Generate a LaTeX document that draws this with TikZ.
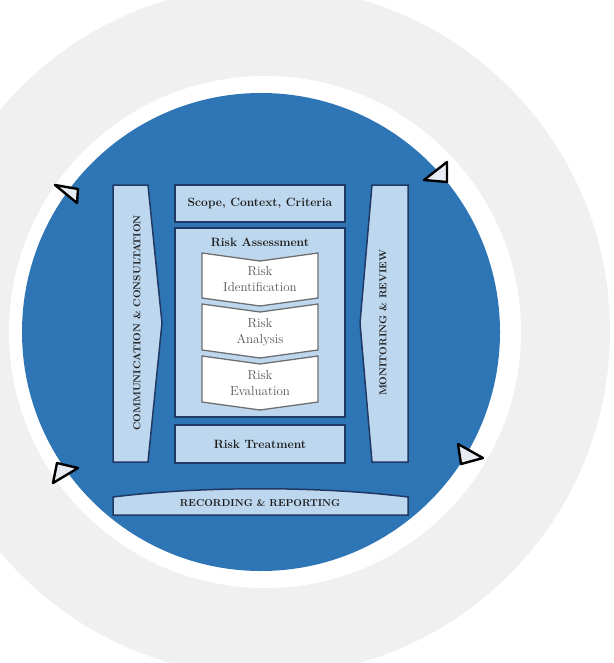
\documentclass[tikz,border=0pt]{standalone}
\usepackage{fontspec}
\definecolor{bggray}{HTML}{F0F0F0}
\definecolor{ringblue}{HTML}{2E75B6}
\definecolor{boxblue}{HTML}{BDD7EE}
\definecolor{navy}{HTML}{1F3864}
\definecolor{chevgray}{HTML}{6F6F6F}
\definecolor{labdark}{HTML}{1C1C1C}
\definecolor{chevtext}{HTML}{555555}
\definecolor{trifill}{HTML}{E6ECF2}
\tikzset{
  panel/.style={fill=boxblue, draw=navy, line width=1.5pt, line join=miter},
  chev/.style={fill=white, draw=chevgray, line width=1.3pt},
  boldlab/.style={inner sep=0pt, font=\fontsize{12}{14}\selectfont\bfseries, text=labdark},
  caplab/.style={inner sep=0pt, font=\fontsize{10}{12}\selectfont\bfseries, text=labdark},
  chevlab/.style={inner sep=0pt, align=center, font=\fontsize{13}{16}\selectfont, text=chevtext},
  tri/.style={draw=black, fill=trifill, line width=2.4pt, line join=round}
}
\begin{document}
\begin{tikzpicture}[x=1pt,y=-1pt]
\useasboundingbox (0,0) rectangle (613,663);
\clip (0,0) rectangle (613,663);
\fill[white] (0,0) rectangle (613,663);
% background discs
\fill[bggray] (265,331) circle[radius=345];
\fill[white] (265,332) circle[radius=256];
\fill[ringblue] (261,332) circle[radius=239];
% side panels
\draw[panel] (113,185) -- (148,185) -- (162,323) -- (148,462) -- (113,462) -- cycle;
\draw[panel] (372,185) -- (408,185) -- (408,462) -- (372,462) -- (360,323) -- cycle;
% centre column
\draw[panel] (175,185) rectangle (345,222);
\draw[panel] (175,228) rectangle (345,417);
\draw[panel] (175,425) rectangle (345,463);
% recording bar
\draw[panel] (113,497) .. controls (200,486) and (320,486) .. (408,497) -- (408,515) -- (113,515) -- cycle;
% chevrons
\draw[chev] (202,253) -- (260,261) -- (318,253) -- (318,298) -- (260,306) -- (202,298) -- cycle;
\draw[chev] (202,304) -- (260,312) -- (318,304) -- (318,350) -- (260,358) -- (202,350) -- cycle;
\draw[chev] (202,356) -- (260,364) -- (318,356) -- (318,402) -- (260,410) -- (202,402) -- cycle;
% labels
\node[boldlab] (scope) at (260,203.5) {Scope, Context, Criteria};
\node[boldlab] (ra) at (260,242) {Risk Assessment};
\node[boldlab] (rt) at (260,444) {Risk Treatment};
\node[caplab] (rr) at (260,503) {RECORDING \& REPORTING};
\node[caplab, rotate=90] (cc) at (137,323) {COMMUNICATION \& CONSULTATION};
\node[caplab, rotate=90] (mr) at (383,323) {MONITORING \& REVIEW};
\node[chevlab] (rid) at (260,279.5) {Risk\\Identification};
\node[chevlab] (ran) at (260,332) {Risk\\Analysis};
\node[chevlab] (rev) at (260,383.5) {Risk\\Evaluation};
% triangle markers
\draw[tri] (55,185) -- (78,189) -- (77,203) -- cycle;
\draw[tri] (447,162) -- (447,182) -- (424,180) -- cycle;
\draw[tri] (78,468) -- (57,463) -- (53,483) -- cycle;
\draw[tri] (483,458) -- (458,444) -- (461,464) -- cycle;
\end{tikzpicture}
\end{document}
